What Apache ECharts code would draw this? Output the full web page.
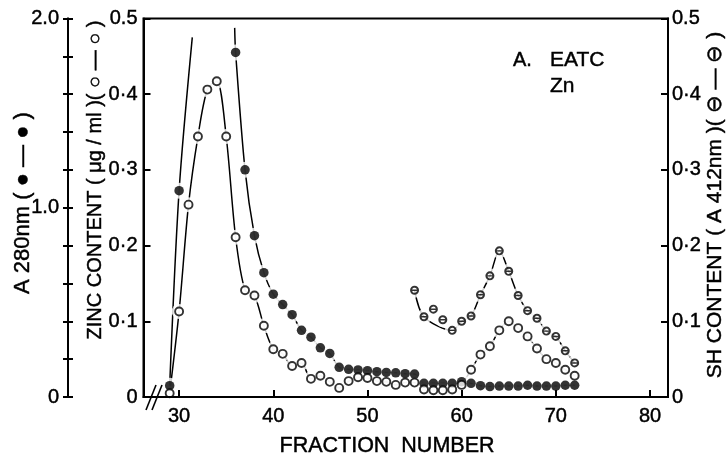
<!DOCTYPE html>
<html>
<head>
<meta charset="utf-8">
<script src="https://cdn.jsdelivr.net/npm/echarts@6/dist/echarts.min.js"></script>
<style>
  html, body { margin: 0; padding: 0; background: #fff; }
  #chart { width: 727px; height: 457px; }
</style>
</head>
<body>
<div id="chart"></div>
<script>
// ---- Elution profile of EATC (Zn): fraction number vs. three readings ----

// Absorbance at 280 nm (filled circles)
const a280Fractions = [29, 30, 36, 37, 38, 39, 40, 41, 42, 43, 44, 45, 46, 47, 48, 49, 50, 51, 52, 53, 54, 55, 56, 57, 58, 59, 60, 61, 62, 63, 64, 65, 66, 67, 68, 69, 70, 71, 72];
const a280Values = [0.06, 1.09, 1.82, 1.20, 0.852, 0.657, 0.543, 0.488, 0.435, 0.352, 0.316, 0.26, 0.23, 0.157, 0.146, 0.143, 0.139, 0.134, 0.130, 0.128, 0.123, 0.121, 0.072, 0.072, 0.072, 0.072, 0.081, 0.072, 0.060, 0.055, 0.058, 0.058, 0.058, 0.062, 0.058, 0.058, 0.058, 0.062, 0.062];
// The A280 trace runs off the top of the scale between fractions 30 and 36
const a280TraceExit = [31.4, 1.90];
const a280TraceEntry = [35.9, 1.95];

// Zinc content, µg/ml (open circles)
const zincFractions = [29, 30, 31, 32, 33, 34, 35, 36, 37, 38, 39, 40, 41, 42, 43, 44, 45, 46, 47, 48, 49, 50, 51, 52, 53, 54, 55, 56, 57, 58, 59, 60, 61, 62, 63, 64, 65, 66, 67, 68, 69, 70, 71, 72];
const zincValues = [0.005, 0.113, 0.254, 0.344, 0.406, 0.417, 0.344, 0.211, 0.141, 0.134, 0.094, 0.063, 0.057, 0.041, 0.045, 0.024, 0.028, 0.020, 0.012, 0.021, 0.026, 0.025, 0.021, 0.020, 0.016, 0.019, 0.019, 0.010, 0.009, 0.009, 0.010, 0.016, 0.036, 0.056, 0.067, 0.088, 0.100, 0.091, 0.080, 0.064, 0.050, 0.045, 0.036, 0.028];

// SH content, A 412 nm (barred circles)
const shFractions = [55, 56, 57, 58, 59, 60, 61, 62, 63, 64, 65, 66, 67, 68, 69, 70, 71, 72];
const shValues = [0.141, 0.106, 0.116, 0.102, 0.088, 0.100, 0.107, 0.135, 0.160, 0.193, 0.166, 0.134, 0.114, 0.104, 0.087, 0.080, 0.061, 0.045];
// Fractions left off the smoothed SH curve (points sit above it)
const shCurveSkip = [57, 58];

// Tick labels
const xTickValues = [30, 40, 50, 60, 70, 80];
const a280LabelValues = [0, 1, 2];
const a280LabelText = ['0', '1.0', '2.0'];
const zincTickText = ['0', '0·1', '0·2', '0·3', '0·4', '0.5'];
const shTickText = ['0', '0·1', '0·2', '0·3', '0·4', '0.5'];

// ---- drawing ----
const INK = '#000';
const FONT = '"Liberation Sans", Arial, sans-serif';
// a thin outline on text gives the heavier, printed stroke weight
const HEAVY = { textBorderColor: INK, textBorderWidth: 0.45 };

const pairs = (xs, ys) => xs.map((x, i) => [x, ys[i]]);
const a280Pairs = pairs(a280Fractions, a280Values);
const zincPairs = pairs(zincFractions, zincValues);
const shPairs = pairs(shFractions, shValues);

const a280Rise = a280Pairs.filter(p => p[0] <= a280TraceExit[0]).concat([a280TraceExit]);
const a280Fall = [a280TraceEntry].concat(a280Pairs.filter(p => p[0] >= a280TraceEntry[0]));
const shCurve = shPairs.filter(p => shCurveSkip.indexOf(p[0]) < 0);

const near = (a, b) => Math.abs(a - b) < 1e-6;

const chart = echarts.init(document.getElementById('chart'), null, { renderer: 'canvas' });

function curve(data, yAxisIndex) {
  return {
    type: 'line', data, yAxisIndex, xAxisIndex: 0,
    symbol: 'none', smooth: 0.3, z: 2, silent: true,
    lineStyle: { color: INK, width: 1.5 }
  };
}
// white disc under each marker so the pen line stops short of it
function halo(data, yAxisIndex, size) {
  return {
    type: 'scatter', data, yAxisIndex, xAxisIndex: 0,
    symbol: 'circle', symbolSize: size, z: 3, silent: true,
    itemStyle: { color: '#fff' }
  };
}

const barredCircle = 'path://M-1,0A1,1,0,1,1,1,0A1,1,0,1,1,-1,0Z' +
  'M-0.537,-0.16L0.537,-0.16A0.56,0.56,0,0,0,-0.537,-0.16Z' +
  'M0.537,0.16L-0.537,0.16A0.56,0.56,0,0,0,0.537,0.16Z';

const labelStyle = Object.assign({ color: INK, fontFamily: FONT, fontSize: 20 }, HEAVY);

const yBase = {
  type: 'value', min: 0, splitLine: { show: false },
  axisLine: { show: true, lineStyle: { color: INK, width: 2 } },
  axisTick: { show: true, inside: true, length: 7, lineStyle: { color: INK, width: 2 } },
  axisLabel: labelStyle
};

function text(x, y, str, size, extra) {
  return Object.assign({
    type: 'text', x, y, z: 20,
    style: Object.assign({ text: str, fill: INK, font: size + 'px ' + FONT, align: 'left', verticalAlign: 'middle', stroke: INK, lineWidth: 0.45 }, (extra && extra.style) || {})
  }, extra && extra.rotation ? { rotation: extra.rotation } : {});
}

chart.setOption({
  animation: false,
  backgroundColor: '#fff',
  grid: {
    left: 143.5, right: 59, top: 18.4, bottom: 60,
    show: true, borderColor: INK, borderWidth: 2,
    containLabel: false, outerBoundsMode: 'none'
  },
  xAxis: {
    type: 'value', min: 26.22, max: 81.91, z: 10,
    splitLine: { show: false },
    axisLine: { show: true, onZero: false, lineStyle: { color: INK, width: 2 } },
    axisTick: { show: true, inside: true, length: 7, customValues: xTickValues, lineStyle: { color: INK, width: 2 } },
    axisLabel: Object.assign({ customValues: xTickValues, margin: 9 }, labelStyle)
  },
  yAxis: [
    Object.assign({}, yBase, {
      position: 'left', offset: 75.5, max: 2, interval: 0.2,
      axisTick: { show: true, inside: false, length: 5, lineStyle: { color: INK, width: 2 } },
      axisLabel: Object.assign({
        margin: 9,
        formatter: v => {
          const k = a280LabelValues.findIndex(t => near(t, v));
          return k < 0 ? '' : a280LabelText[k];
        }
      }, labelStyle)
    }),
    Object.assign({}, yBase, {
      position: 'left', offset: 75.5, max: 2, interval: 0.2,
      axisTick: { show: true, inside: true, length: 5, lineStyle: { color: INK, width: 2 } },
      axisLabel: { show: false }
    }),
    Object.assign({}, yBase, {
      position: 'left', offset: 0, max: 0.5, interval: 0.1,
      axisLabel: Object.assign({ margin: 6, formatter: v => zincTickText[Math.round(v * 10)] }, labelStyle)
    }),
    Object.assign({}, yBase, {
      position: 'right', offset: 0, max: 0.5, interval: 0.1,
      axisLabel: Object.assign({ margin: 4, formatter: v => shTickText[Math.round(v * 10)] }, labelStyle)
    })
  ],
  series: [
    curve(a280Rise, 0),
    curve(a280Fall, 0),
    curve(zincPairs, 2),
    curve(shCurve, 3),
    halo(a280Pairs, 0, 16),
    halo(zincPairs, 2, 15),
    halo(shPairs, 3, 15),
    {
      type: 'scatter', name: 'A 280nm', data: a280Pairs, yAxisIndex: 0,
      symbol: 'circle', symbolSize: 9.5, z: 4,
      itemStyle: { color: INK }
    },
    {
      type: 'scatter', name: 'Zinc', data: zincPairs, yAxisIndex: 2,
      symbol: 'circle', symbolSize: 8, z: 4,
      itemStyle: { color: '#fff', borderColor: INK, borderWidth: 1.9 }
    },
    {
      type: 'scatter', name: 'SH', data: shPairs, yAxisIndex: 3,
      symbol: barredCircle, symbolSize: 9, z: 4,
      itemStyle: { color: INK }
    }
  ],
  graphic: [
    // axis break on the fraction axis
    { type: 'line', z: 20, shape: { x1: 146, y1: 410, x2: 156, y2: 385 }, style: { stroke: INK, lineWidth: 1.6 } },
    { type: 'line', z: 20, shape: { x1: 152, y1: 410, x2: 162, y2: 385 }, style: { stroke: INK, lineWidth: 1.6 } },
    // panel title
    text(513, 60, 'A.', 20),
    text(550, 60, 'EATC', 21),
    text(550, 86, 'Zn', 21),
    // axis titles
    text(387, 446, 'FRACTION  NUMBER', 21.5, { style: { align: 'center' } }),
    text(23, 203, 'A 280nm ( ● — ● )', 22, { rotation: Math.PI / 2, style: { align: 'center' } }),
    text(95, 180, 'ZINC CONTENT ( μg / ml )( ○ — ○ )', 20, { rotation: Math.PI / 2, style: { align: 'center' } }),
    text(715, 205, 'SH CONTENT ( A 412nm )( ⊖ — ⊖ )', 21, { rotation: Math.PI / 2, style: { align: 'center' } })
  ]
});
</script>
</body>
</html>
